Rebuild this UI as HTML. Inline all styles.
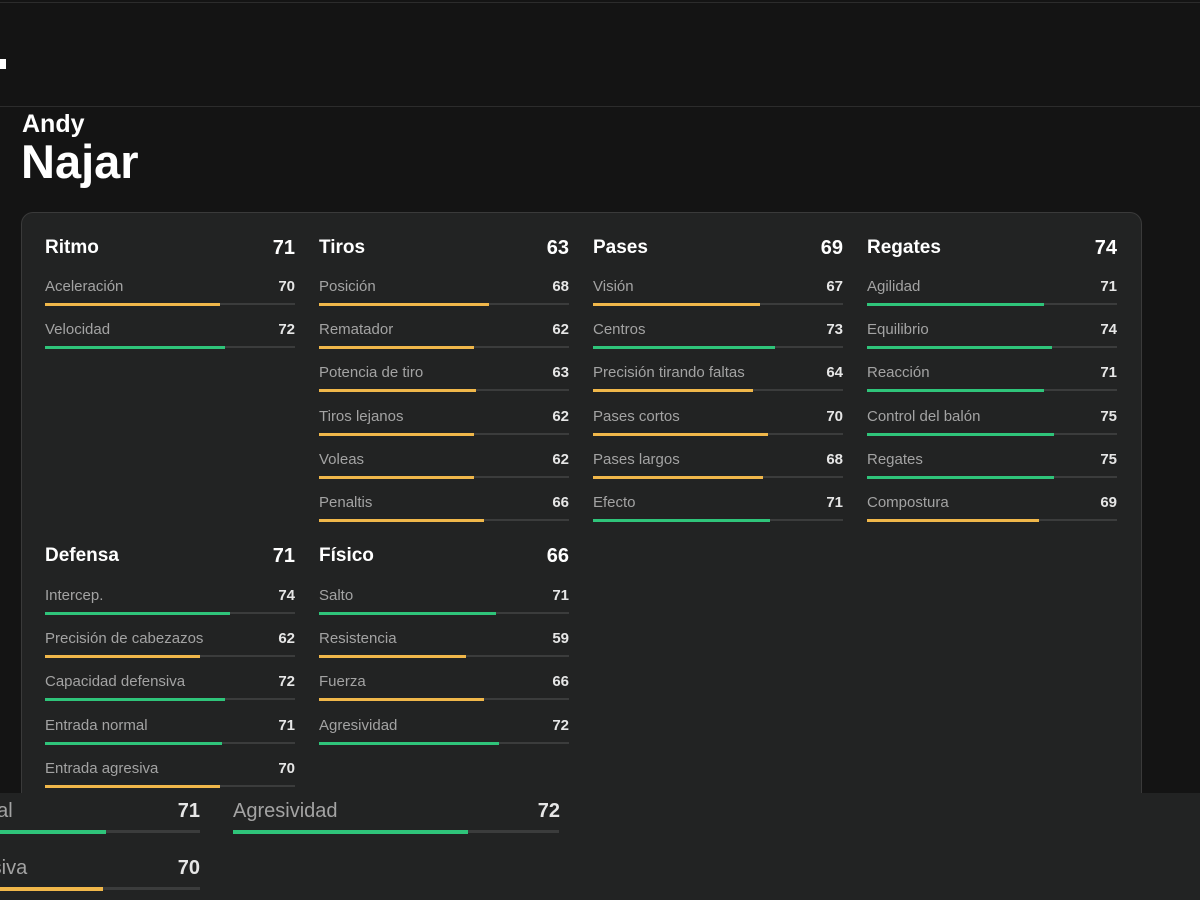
<!DOCTYPE html>
<html><head><meta charset="utf-8"><style>
*{margin:0;padding:0;box-sizing:border-box}
html,body{width:1200px;height:900px;overflow:hidden}
body{background:#141414;position:relative;font-family:"Liberation Sans",sans-serif}
.a{position:absolute}
.l{position:absolute;font-size:15px;color:#a3a3a3;height:20px;line-height:20px;white-space:nowrap;margin-top:2px}
.v{position:absolute;font-size:15px;color:#e6e6e6;font-weight:bold;height:20px;line-height:20px;text-align:right;width:40px;margin-top:2px}
.t{position:absolute;height:2px;background:#3b3c3c;width:250px}
.f{position:absolute;height:3px;top:-0.5px;left:0}
.g{background:#2fc47a}.y{background:#f0b74a}
.h{position:absolute;font-size:19px;color:#fff;font-weight:bold;height:24px;line-height:24px}
.hv{position:absolute;font-size:20px;color:#fff;font-weight:bold;height:24px;line-height:24px;text-align:right;width:50px}
.clip{position:absolute;left:0;top:793px;width:1200px;height:107px;background:#222323;overflow:hidden}
</style></head><body>
<div class="a" style="left:0;top:2px;width:1200px;height:1px;background:#2c2c2c"></div>
<div class="a" style="left:0;top:59px;width:6px;height:10px;background:#fff"></div>
<div class="a" style="left:0;top:106px;width:1200px;height:1px;background:#2c2c2c"></div>
<div class="a" style="left:22px;top:110px;font-size:25px;font-weight:bold;color:#fff">Andy</div>
<div class="a" style="left:21px;top:134px;font-size:47px;font-weight:bold;color:#fff">Najar</div>
<div class="a" style="left:21px;top:212px;width:1121px;height:640px;background:#222323;border:1px solid #3a3a3a;border-radius:12px"></div>

<div class="h" style="left:45px;top:236px">Ritmo</div><div class="hv" style="left:245px;top:236px">71</div>
<div class="h" style="left:319px;top:236px">Tiros</div><div class="hv" style="left:519px;top:236px">63</div>
<div class="h" style="left:593px;top:236px">Pases</div><div class="hv" style="left:793px;top:236px">69</div>
<div class="h" style="left:867px;top:236px">Regates</div><div class="hv" style="left:1067px;top:236px">74</div>
<div class="h" style="left:45px;top:544px">Defensa</div><div class="hv" style="left:245px;top:544px">71</div>
<div class="h" style="left:319px;top:544px">Físico</div><div class="hv" style="left:519px;top:544px">66</div>

<div class="l" style="left:45px;top:275px">Aceleración</div><div class="v" style="left:255px;top:275px">70</div><div class="t" style="left:45px;top:303px"><div class="f y" style="width:175px"></div></div>
<div class="l" style="left:45px;top:318px">Velocidad</div><div class="v" style="left:255px;top:318px">72</div><div class="t" style="left:45px;top:346px"><div class="f g" style="width:180px"></div></div>

<div class="l" style="left:319px;top:275px">Posición</div><div class="v" style="left:529px;top:275px">68</div><div class="t" style="left:319px;top:303px"><div class="f y" style="width:170px"></div></div>
<div class="l" style="left:319px;top:318px">Rematador</div><div class="v" style="left:529px;top:318px">62</div><div class="t" style="left:319px;top:346px"><div class="f y" style="width:155px"></div></div>
<div class="l" style="left:319px;top:361px">Potencia de tiro</div><div class="v" style="left:529px;top:361px">63</div><div class="t" style="left:319px;top:389px"><div class="f y" style="width:157px"></div></div>
<div class="l" style="left:319px;top:405px">Tiros lejanos</div><div class="v" style="left:529px;top:405px">62</div><div class="t" style="left:319px;top:433px"><div class="f y" style="width:155px"></div></div>
<div class="l" style="left:319px;top:448px">Voleas</div><div class="v" style="left:529px;top:448px">62</div><div class="t" style="left:319px;top:476px"><div class="f y" style="width:155px"></div></div>
<div class="l" style="left:319px;top:491px">Penaltis</div><div class="v" style="left:529px;top:491px">66</div><div class="t" style="left:319px;top:519px"><div class="f y" style="width:165px"></div></div>

<div class="l" style="left:593px;top:275px">Visión</div><div class="v" style="left:803px;top:275px">67</div><div class="t" style="left:593px;top:303px"><div class="f y" style="width:167px"></div></div>
<div class="l" style="left:593px;top:318px">Centros</div><div class="v" style="left:803px;top:318px">73</div><div class="t" style="left:593px;top:346px"><div class="f g" style="width:182px"></div></div>
<div class="l" style="left:593px;top:361px">Precisión tirando faltas</div><div class="v" style="left:803px;top:361px">64</div><div class="t" style="left:593px;top:389px"><div class="f y" style="width:160px"></div></div>
<div class="l" style="left:593px;top:405px">Pases cortos</div><div class="v" style="left:803px;top:405px">70</div><div class="t" style="left:593px;top:433px"><div class="f y" style="width:175px"></div></div>
<div class="l" style="left:593px;top:448px">Pases largos</div><div class="v" style="left:803px;top:448px">68</div><div class="t" style="left:593px;top:476px"><div class="f y" style="width:170px"></div></div>
<div class="l" style="left:593px;top:491px">Efecto</div><div class="v" style="left:803px;top:491px">71</div><div class="t" style="left:593px;top:519px"><div class="f g" style="width:177px"></div></div>

<div class="l" style="left:867px;top:275px">Agilidad</div><div class="v" style="left:1077px;top:275px">71</div><div class="t" style="left:867px;top:303px"><div class="f g" style="width:177px"></div></div>
<div class="l" style="left:867px;top:318px">Equilibrio</div><div class="v" style="left:1077px;top:318px">74</div><div class="t" style="left:867px;top:346px"><div class="f g" style="width:185px"></div></div>
<div class="l" style="left:867px;top:361px">Reacción</div><div class="v" style="left:1077px;top:361px">71</div><div class="t" style="left:867px;top:389px"><div class="f g" style="width:177px"></div></div>
<div class="l" style="left:867px;top:405px">Control del balón</div><div class="v" style="left:1077px;top:405px">75</div><div class="t" style="left:867px;top:433px"><div class="f g" style="width:187px"></div></div>
<div class="l" style="left:867px;top:448px">Regates</div><div class="v" style="left:1077px;top:448px">75</div><div class="t" style="left:867px;top:476px"><div class="f g" style="width:187px"></div></div>
<div class="l" style="left:867px;top:491px">Compostura</div><div class="v" style="left:1077px;top:491px">69</div><div class="t" style="left:867px;top:519px"><div class="f y" style="width:172px"></div></div>

<div class="l" style="left:45px;top:584px">Intercep.</div><div class="v" style="left:255px;top:584px">74</div><div class="t" style="left:45px;top:612px"><div class="f g" style="width:185px"></div></div>
<div class="l" style="left:45px;top:627px">Precisión de cabezazos</div><div class="v" style="left:255px;top:627px">62</div><div class="t" style="left:45px;top:655px"><div class="f y" style="width:155px"></div></div>
<div class="l" style="left:45px;top:670px">Capacidad defensiva</div><div class="v" style="left:255px;top:670px">72</div><div class="t" style="left:45px;top:698px"><div class="f g" style="width:180px"></div></div>
<div class="l" style="left:45px;top:714px">Entrada normal</div><div class="v" style="left:255px;top:714px">71</div><div class="t" style="left:45px;top:742px"><div class="f g" style="width:177px"></div></div>
<div class="l" style="left:45px;top:757px">Entrada agresiva</div><div class="v" style="left:255px;top:757px">70</div><div class="t" style="left:45px;top:785px"><div class="f y" style="width:175px"></div></div>

<div class="l" style="left:319px;top:584px">Salto</div><div class="v" style="left:529px;top:584px">71</div><div class="t" style="left:319px;top:612px"><div class="f g" style="width:177px"></div></div>
<div class="l" style="left:319px;top:627px">Resistencia</div><div class="v" style="left:529px;top:627px">59</div><div class="t" style="left:319px;top:655px"><div class="f y" style="width:147px"></div></div>
<div class="l" style="left:319px;top:670px">Fuerza</div><div class="v" style="left:529px;top:670px">66</div><div class="t" style="left:319px;top:698px"><div class="f y" style="width:165px"></div></div>
<div class="l" style="left:319px;top:714px">Agresividad</div><div class="v" style="left:529px;top:714px">72</div><div class="t" style="left:319px;top:742px"><div class="f g" style="width:180px"></div></div>

<div class="clip">
<div class="l" style="left:-124px;top:3px;font-size:20px;height:26px;line-height:26px">Entrada normal</div>
<div class="v" style="left:140px;top:3px;width:60px;font-size:20px;height:26px;line-height:26px">71</div>
<div class="t" style="left:-126px;top:37px;width:326px;height:3px"><div class="f g" style="width:232px;height:4px"></div></div>
<div class="l" style="left:-124px;top:60px;font-size:20px;height:26px;line-height:26px">Entrada agresiva</div>
<div class="v" style="left:140px;top:60px;width:60px;font-size:20px;height:26px;line-height:26px">70</div>
<div class="t" style="left:-126px;top:94px;width:326px;height:3px"><div class="f y" style="width:229px;height:4px"></div></div>
<div class="l" style="left:233px;top:3px;font-size:20px;height:26px;line-height:26px">Agresividad</div>
<div class="v" style="left:500px;top:3px;width:60px;font-size:20px;height:26px;line-height:26px">72</div>
<div class="t" style="left:233px;top:37px;width:326px;height:3px"><div class="f g" style="width:235px;height:4px"></div></div>
</div>
</body></html>
